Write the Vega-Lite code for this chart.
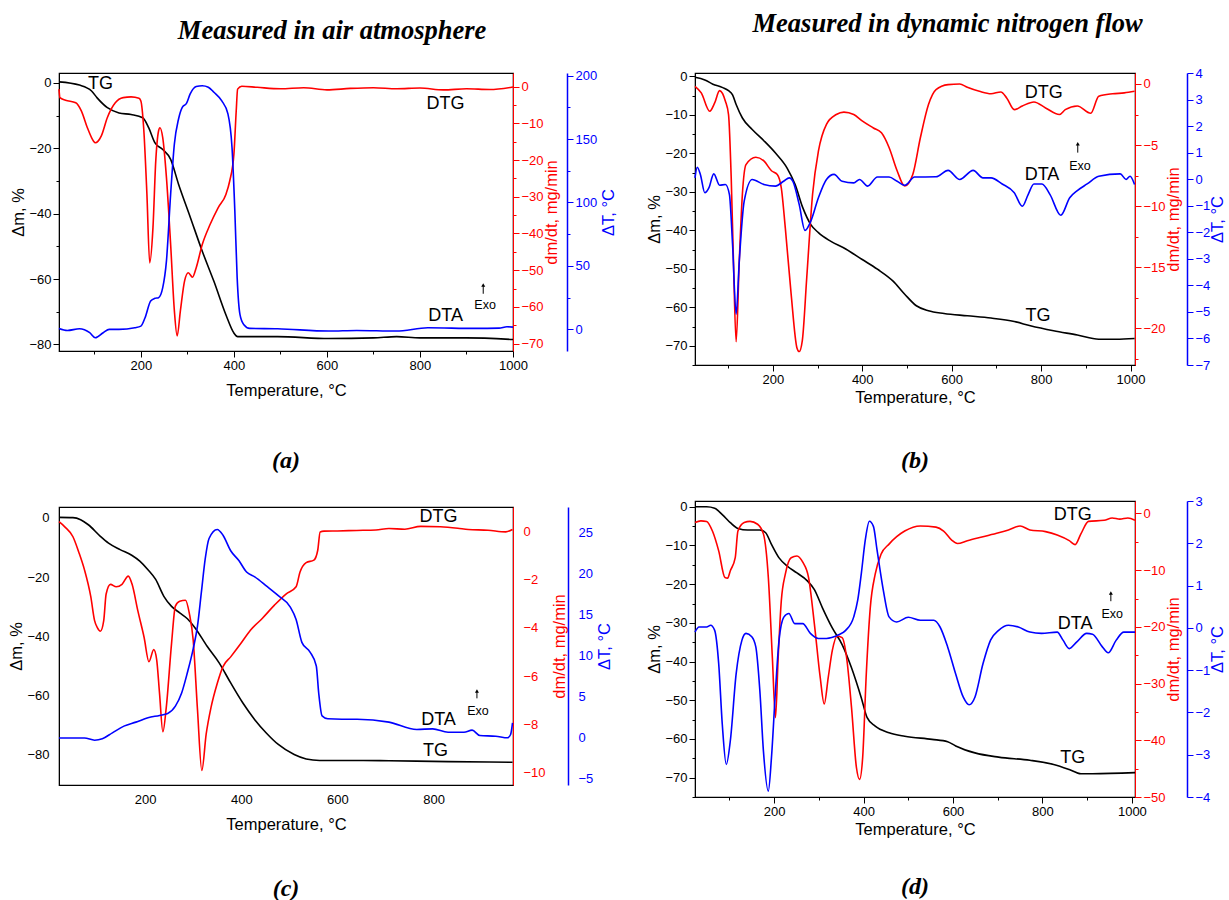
{
"$schema": "https://vega.github.io/schema/vega-lite/v6.json",
"background": "white",
"padding": {"left": 8, "top": 10, "right": 0, "bottom": 0},
"config": {
  "font": "Liberation Sans",
  "view": {"stroke": "black", "strokeWidth": 1.2},
  "axis": {"grid": false, "labelFontSize": 13, "titleFontSize": 16.5, "titleFontWeight": "normal", "labelColor": "black", "titleColor": "black", "domainColor": "black", "tickColor": "black", "labelFlush": false, "labelOverlap": false, "labelFont": "Liberation Sans", "titleFont": "Liberation Sans"},
  "axisX": {"titlePadding": 10},
  "axisY": {"titlePadding": 2}
},
"datasets": {
"aTG": [{"T":24,"v":0.3},{"T":68,"v":-0.7},{"T":94,"v":-2.5},{"T":106,"v":-4.6},{"T":128,"v":-7.6},{"T":153,"v":-9.2},{"T":179,"v":-9.7},{"T":204,"v":-10.7},{"T":217,"v":-13.8},{"T":230,"v":-18.3},{"T":247,"v":-20.4},{"T":264,"v":-23.4},{"T":281,"v":-31},{"T":306,"v":-41},{"T":332,"v":-51.5},{"T":357,"v":-60.7},{"T":383,"v":-71},{"T":400,"v":-76.5},{"T":408,"v":-77.6},{"T":494,"v":-77.6},{"T":604,"v":-78.2},{"T":700,"v":-78},{"T":750,"v":-77.6},{"T":800,"v":-78},{"T":900,"v":-78},{"T":1000,"v":-78.5}],
"aDTG": [{"T":24,"v":-0.7},{"T":26,"v":-3},{"T":38,"v":-3.7},{"T":60,"v":-4.4},{"T":72,"v":-6.6},{"T":85,"v":-11.2},{"T":98,"v":-14.8},{"T":102,"v":-15.3},{"T":115,"v":-13.4},{"T":128,"v":-8.4},{"T":145,"v":-4.4},{"T":162,"v":-3},{"T":179,"v":-2.8},{"T":196,"v":-3.2},{"T":200,"v":-3.9},{"T":206,"v":-11.2},{"T":213,"v":-29.3},{"T":219,"v":-48},{"T":226,"v":-38.4},{"T":232,"v":-20.3},{"T":238,"v":-12.1},{"T":241,"v":-11.2},{"T":247,"v":-13.9},{"T":255,"v":-24.8},{"T":264,"v":-43},{"T":272,"v":-61},{"T":278,"v":-67.9},{"T":285,"v":-61},{"T":294,"v":-52.9},{"T":302,"v":-50.7},{"T":311,"v":-51.9},{"T":319,"v":-49.3},{"T":332,"v":-43},{"T":349,"v":-37.5},{"T":366,"v":-33},{"T":383,"v":-29.3},{"T":391,"v":-25.7},{"T":400,"v":-18.4},{"T":405,"v":-6.6},{"T":408,"v":-0.7},{"T":417,"v":0.1},{"T":450,"v":-0.2},{"T":500,"v":-0.6},{"T":550,"v":-0.3},{"T":600,"v":-0.9},{"T":650,"v":-0.5},{"T":700,"v":-0.3},{"T":750,"v":-0.6},{"T":800,"v":-0.4},{"T":850,"v":-0.9},{"T":900,"v":-0.6},{"T":950,"v":-0.8},{"T":1000,"v":-0.1}],
"aDTA": [{"T":24,"v":0.8},{"T":42,"v":-0.8},{"T":68,"v":0.5},{"T":90,"v":-2.6},{"T":102,"v":-6.6},{"T":119,"v":-2.6},{"T":132,"v":0},{"T":153,"v":0},{"T":187,"v":1.3},{"T":200,"v":2.6},{"T":209,"v":9.2},{"T":221,"v":22.4},{"T":230,"v":24.5},{"T":238,"v":25},{"T":247,"v":32.9},{"T":255,"v":54},{"T":264,"v":106.6},{"T":272,"v":146},{"T":281,"v":165.8},{"T":289,"v":175},{"T":298,"v":178},{"T":306,"v":185.5},{"T":319,"v":191.3},{"T":332,"v":192},{"T":345,"v":190.8},{"T":357,"v":186.8},{"T":374,"v":180},{"T":387,"v":170},{"T":396,"v":143},{"T":402,"v":93.4},{"T":407,"v":40.8},{"T":413,"v":11.8},{"T":421,"v":3.9},{"T":434,"v":0.8},{"T":494,"v":0.5},{"T":604,"v":-1.3},{"T":664,"v":-0.8},{"T":749,"v":-1.3},{"T":817,"v":1.3},{"T":919,"v":0.8},{"T":970,"v":1.0},{"T":987,"v":2.1},{"T":1000,"v":1.8}],
"aLab": [{"T":113,"v":-0.5,"t":"TG"},{"T":855,"v":-6.6,"t":"DTG"},{"T":855,"v":-71.4,"t":"DTA"}],
"aExo": [{"T":940,"v":-67.8,"t":"Exo"}],
"aArr": [{"T":936,"v":-64.5,"v2":-61.8}],
"bTG": [{"T":26,"v":-0.2},{"T":48,"v":-0.9},{"T":66,"v":-2},{"T":88,"v":-2.9},{"T":101,"v":-3.7},{"T":110,"v":-4.8},{"T":118,"v":-7.3},{"T":132,"v":-10.8},{"T":154,"v":-13.8},{"T":180,"v":-16.7},{"T":206,"v":-19.9},{"T":232,"v":-23.8},{"T":250,"v":-28.1},{"T":267,"v":-34.1},{"T":285,"v":-38.5},{"T":302,"v":-40.6},{"T":329,"v":-42.8},{"T":364,"v":-44.9},{"T":399,"v":-47.5},{"T":434,"v":-50.1},{"T":469,"v":-53.2},{"T":495,"v":-56.6},{"T":521,"v":-59.6},{"T":548,"v":-60.9},{"T":583,"v":-61.6},{"T":635,"v":-62.2},{"T":688,"v":-62.8},{"T":740,"v":-63.7},{"T":776,"v":-64.8},{"T":828,"v":-66.1},{"T":881,"v":-67.2},{"T":929,"v":-68.3},{"T":968,"v":-68.3},{"T":1009,"v":-68.1}],
"bDTG": [{"T":26,"v":-0.19},{"T":40,"v":-0.73},{"T":59,"v":-2.23},{"T":70,"v":-1.55},{"T":81,"v":-0.54},{"T":94,"v":-1.41},{"T":101,"v":-2.5},{"T":107,"v":-7.7},{"T":112,"v":-14.5},{"T":118,"v":-21.1},{"T":125,"v":-14.5},{"T":132,"v":-9.0},{"T":140,"v":-6.6},{"T":162,"v":-6.0},{"T":180,"v":-6.3},{"T":197,"v":-7.1},{"T":210,"v":-7.4},{"T":219,"v":-8.5},{"T":228,"v":-11.8},{"T":241,"v":-17.2},{"T":254,"v":-21.6},{"T":259,"v":-21.9},{"T":266,"v":-21},{"T":276,"v":-15.8},{"T":289,"v":-9.0},{"T":302,"v":-5.5},{"T":320,"v":-3.3},{"T":342,"v":-2.5},{"T":359,"v":-2.3},{"T":381,"v":-2.5},{"T":399,"v":-3.0},{"T":425,"v":-3.6},{"T":443,"v":-4.0},{"T":460,"v":-5.2},{"T":478,"v":-7.1},{"T":495,"v":-8.35},{"T":513,"v":-7.4},{"T":530,"v":-4.4},{"T":548,"v":-1.7},{"T":565,"v":-0.46},{"T":592,"v":-0.05},{"T":618,"v":0},{"T":635,"v":-0.27},{"T":662,"v":-0.6},{"T":688,"v":-0.8},{"T":710,"v":-0.65},{"T":723,"v":-1.14},{"T":740,"v":-2.1},{"T":758,"v":-1.8},{"T":784,"v":-1.47},{"T":810,"v":-1.96},{"T":841,"v":-2.5},{"T":854,"v":-2.1},{"T":881,"v":-1.8},{"T":911,"v":-2.4},{"T":929,"v":-1.0},{"T":960,"v":-0.8},{"T":986,"v":-0.73},{"T":1009,"v":-0.6}],
"bDTA": [{"T":26,"v":0.05},{"T":31,"v":0.45},{"T":38,"v":0.18},{"T":48,"v":-0.51},{"T":57,"v":-0.33},{"T":68,"v":0.2},{"T":81,"v":-0.23},{"T":94,"v":-0.2},{"T":103,"v":-0.58},{"T":110,"v":-2.46},{"T":118,"v":-5.09},{"T":125,"v":-3.09},{"T":136,"v":-0.83},{"T":154,"v":-0.01},{"T":180,"v":-0.2},{"T":206,"v":-0.26},{"T":224,"v":-0.08},{"T":237,"v":0.05},{"T":245,"v":-0.08},{"T":259,"v":-0.95},{"T":272,"v":-1.93},{"T":285,"v":-1.58},{"T":302,"v":-0.7},{"T":320,"v":-0.01},{"T":337,"v":0.18},{"T":355,"v":-0.08},{"T":381,"v":-0.14},{"T":394,"v":-0.01},{"T":412,"v":-0.26},{"T":434,"v":0.08},{"T":460,"v":0.08},{"T":478,"v":-0.08},{"T":495,"v":-0.23},{"T":517,"v":0.08},{"T":565,"v":0.09},{"T":592,"v":0.33},{"T":618,"v":-0.01},{"T":648,"v":0.33},{"T":670,"v":0.05},{"T":688,"v":0.05},{"T":713,"v":-0.18},{"T":740,"v":-0.51},{"T":758,"v":-1.02},{"T":771,"v":-0.58},{"T":784,"v":-0.18},{"T":802,"v":-0.18},{"T":820,"v":-0.58},{"T":844,"v":-1.36},{"T":864,"v":-0.7},{"T":881,"v":-0.43},{"T":903,"v":-0.18},{"T":929,"v":0.11},{"T":977,"v":0.2},{"T":990,"v":-0.01},{"T":999,"v":0.11},{"T":1009,"v":-0.2}],
"bLab": [{"T":806,"v":-4.3,"t":"DTG"},{"T":802,"v":-25.5,"t":"DTA"},{"T":793,"v":-62.2,"t":"TG"}],
"bExo": [{"T":887,"v":-23.2,"t":"Exo"}],
"bArr": [{"T":882,"v":-19.8,"v2":-17.5}],
"cTG": [{"T":21,"v":0.2},{"T":50,"v":0.1},{"T":66,"v":-0.6},{"T":82,"v":-2.3},{"T":107,"v":-6.2},{"T":124,"v":-8.5},{"T":148,"v":-10.7},{"T":173,"v":-12.7},{"T":189,"v":-14.6},{"T":206,"v":-17.5},{"T":222,"v":-20.8},{"T":239,"v":-26.5},{"T":255,"v":-29.9},{"T":272,"v":-32.1},{"T":288,"v":-34.1},{"T":304,"v":-37.2},{"T":329,"v":-43.4},{"T":354,"v":-49},{"T":378,"v":-55.8},{"T":403,"v":-62.5},{"T":428,"v":-68.2},{"T":452,"v":-72.7},{"T":477,"v":-76.6},{"T":510,"v":-80},{"T":535,"v":-81.5},{"T":563,"v":-82},{"T":625,"v":-82},{"T":707,"v":-82.1},{"T":830,"v":-82.4},{"T":964,"v":-82.6}],
"cDTG": [{"T":21,"v":0.39},{"T":33,"v":0.18},{"T":50,"v":-0.23},{"T":62,"v":-0.86},{"T":74,"v":-1.6},{"T":87,"v":-2.7},{"T":95,"v":-3.7},{"T":101,"v":-4.0},{"T":107,"v":-4.14},{"T":114,"v":-3.7},{"T":119,"v":-2.6},{"T":128,"v":-2.2},{"T":140,"v":-2.3},{"T":152,"v":-2.2},{"T":165,"v":-1.86},{"T":173,"v":-2.2},{"T":185,"v":-3.3},{"T":198,"v":-4.4},{"T":208,"v":-5.4},{"T":218,"v":-4.9},{"T":224,"v":-5.3},{"T":230,"v":-6.7},{"T":237,"v":-8.3},{"T":244,"v":-7.3},{"T":255,"v":-4.65},{"T":263,"v":-3.1},{"T":272,"v":-2.9},{"T":284,"v":-2.86},{"T":292,"v":-3.4},{"T":300,"v":-4.5},{"T":309,"v":-7.4},{"T":318,"v":-9.9},{"T":327,"v":-8.4},{"T":337,"v":-7.3},{"T":350,"v":-6.3},{"T":362,"v":-5.6},{"T":378,"v":-5.2},{"T":399,"v":-4.65},{"T":419,"v":-4.1},{"T":444,"v":-3.6},{"T":469,"v":-3.06},{"T":493,"v":-2.6},{"T":514,"v":-2.3},{"T":522,"v":-1.7},{"T":535,"v":-1.3},{"T":551,"v":-1.2},{"T":559,"v":-0.79},{"T":564,"v":-0.03},{"T":572,"v":0},{"T":600,"v":0.01},{"T":640,"v":0.03},{"T":680,"v":0.05},{"T":707,"v":0.11},{"T":740,"v":0.08},{"T":773,"v":0.2},{"T":814,"v":0.18},{"T":850,"v":0.12},{"T":872,"v":0.07},{"T":913,"v":0.04},{"T":950,"v":-0.03},{"T":964,"v":0.07}],
"cDTA": [{"T":21,"v":-0.1},{"T":74,"v":-0.1},{"T":95,"v":-0.37},{"T":111,"v":-0.2},{"T":132,"v":0.53},{"T":156,"v":1.35},{"T":181,"v":1.84},{"T":206,"v":2.37},{"T":230,"v":2.66},{"T":247,"v":2.9},{"T":263,"v":3.8},{"T":276,"v":5.4},{"T":288,"v":7.9},{"T":300,"v":10.8},{"T":309,"v":13.6},{"T":317,"v":17.7},{"T":325,"v":21.8},{"T":333,"v":24.3},{"T":350,"v":25.4},{"T":362,"v":24.7},{"T":378,"v":22.8},{"T":395,"v":21.6},{"T":411,"v":20.2},{"T":428,"v":19.6},{"T":452,"v":18.5},{"T":477,"v":17.3},{"T":502,"v":15.9},{"T":514,"v":14.4},{"T":526,"v":11.6},{"T":543,"v":10.4},{"T":556,"v":8.7},{"T":561,"v":5.4},{"T":568,"v":2.6},{"T":580,"v":2.25},{"T":609,"v":2.2},{"T":641,"v":2.2},{"T":707,"v":1.84},{"T":765,"v":0.94},{"T":798,"v":1.02},{"T":830,"v":0.61},{"T":863,"v":0.61},{"T":880,"v":0.86},{"T":896,"v":0.2},{"T":929,"v":0.12},{"T":954,"v":-0.08},{"T":960,"v":0.33},{"T":964,"v":1.76}],
"cLab": [{"T":810,"v":0.3,"t":"DTG"},{"T":810,"v":-68.2,"t":"DTA"},{"T":804,"v":-78.9,"t":"TG"}],
"cExo": [{"T":892,"v":-65.4,"t":"Exo"}],
"cArr": [{"T":890,"v":-61,"v2":-58.5}],
"dTG": [{"T":23,"v":0},{"T":49,"v":0},{"T":67,"v":-0.4},{"T":84,"v":-2},{"T":102,"v":-4.1},{"T":119,"v":-5.6},{"T":141,"v":-6},{"T":168,"v":-6},{"T":181,"v":-6.7},{"T":194,"v":-9.7},{"T":211,"v":-13.2},{"T":229,"v":-15.3},{"T":251,"v":-17.1},{"T":273,"v":-19},{"T":290,"v":-21.4},{"T":308,"v":-26.1},{"T":330,"v":-31.3},{"T":352,"v":-35.6},{"T":373,"v":-41.6},{"T":395,"v":-49.4},{"T":408,"v":-54.5},{"T":426,"v":-56.7},{"T":457,"v":-58.4},{"T":492,"v":-59.3},{"T":553,"v":-60.1},{"T":588,"v":-60.7},{"T":606,"v":-61.8},{"T":649,"v":-63.6},{"T":702,"v":-64.7},{"T":772,"v":-65.5},{"T":825,"v":-66.6},{"T":860,"v":-67.9},{"T":886,"v":-69},{"T":912,"v":-69},{"T":1007,"v":-68.7}],
"dDTG": [{"T":23,"v":-1.6},{"T":36,"v":-1.3},{"T":49,"v":-1.4},{"T":62,"v":-3.1},{"T":76,"v":-6.6},{"T":90,"v":-11.3},{"T":96,"v":-11.4},{"T":102,"v":-10.1},{"T":113,"v":-7.8},{"T":119,"v":-3.1},{"T":133,"v":-1.6},{"T":146,"v":-1.4},{"T":163,"v":-1.9},{"T":176,"v":-3.6},{"T":187,"v":-11.3},{"T":196,"v":-25.4},{"T":203,"v":-36},{"T":209,"v":-25.4},{"T":216,"v":-15.4},{"T":225,"v":-10.7},{"T":238,"v":-7.8},{"T":251,"v":-7.5},{"T":264,"v":-8.6},{"T":277,"v":-11.3},{"T":290,"v":-19.5},{"T":303,"v":-28.9},{"T":312,"v":-33.6},{"T":321,"v":-28.9},{"T":330,"v":-24.2},{"T":341,"v":-21.6},{"T":352,"v":-21.9},{"T":362,"v":-25.4},{"T":373,"v":-34.2},{"T":384,"v":-44.8},{"T":391,"v":-46.9},{"T":398,"v":-43},{"T":406,"v":-28.4},{"T":415,"v":-16.6},{"T":426,"v":-10.7},{"T":439,"v":-7.2},{"T":457,"v":-5.4},{"T":474,"v":-4.1},{"T":492,"v":-3.1},{"T":527,"v":-2.2},{"T":562,"v":-2.4},{"T":579,"v":-3.1},{"T":597,"v":-4.7},{"T":610,"v":-5.3},{"T":632,"v":-4.8},{"T":667,"v":-4.1},{"T":702,"v":-3.4},{"T":724,"v":-2.9},{"T":750,"v":-2.2},{"T":772,"v":-2.9},{"T":807,"v":-3.2},{"T":833,"v":-3.8},{"T":860,"v":-4.8},{"T":873,"v":-5.5},{"T":886,"v":-3.6},{"T":903,"v":-1.4},{"T":938,"v":-1.2},{"T":956,"v":-0.8},{"T":973,"v":-1},{"T":991,"v":-0.8},{"T":1007,"v":-1.2}],
"dDTA": [{"T":23,"v":-0.1},{"T":32,"v":0.02},{"T":49,"v":0.02},{"T":58,"v":0.06},{"T":67,"v":-0.06},{"T":76,"v":-0.85},{"T":84,"v":-2.28},{"T":93,"v":-3.23},{"T":102,"v":-2.67},{"T":115,"v":-1.09},{"T":128,"v":-0.29},{"T":137,"v":-0.13},{"T":150,"v":-0.21},{"T":159,"v":-0.45},{"T":168,"v":-1.48},{"T":176,"v":-2.91},{"T":187,"v":-3.86},{"T":194,"v":-3.07},{"T":203,"v":-1.48},{"T":211,"v":-0.29},{"T":222,"v":0.26},{"T":233,"v":0.34},{"T":246,"v":0.1},{"T":264,"v":0.1},{"T":281,"v":-0.13},{"T":299,"v":-0.25},{"T":317,"v":-0.25},{"T":343,"v":-0.17},{"T":360,"v":-0.06},{"T":378,"v":0.26},{"T":387,"v":0.66},{"T":395,"v":1.29},{"T":404,"v":2.09},{"T":413,"v":2.52},{"T":422,"v":2.4},{"T":430,"v":1.85},{"T":444,"v":0.9},{"T":457,"v":0.26},{"T":474,"v":0.14},{"T":500,"v":0.25},{"T":527,"v":0.18},{"T":557,"v":0.18},{"T":571,"v":0.02},{"T":588,"v":-0.45},{"T":606,"v":-1.09},{"T":623,"v":-1.64},{"T":636,"v":-1.82},{"T":649,"v":-1.64},{"T":667,"v":-0.85},{"T":684,"v":-0.29},{"T":702,"v":-0.06},{"T":724,"v":0.06},{"T":746,"v":0.02},{"T":772,"v":-0.1},{"T":798,"v":-0.13},{"T":833,"v":-0.1},{"T":846,"v":-0.29},{"T":860,"v":-0.49},{"T":877,"v":-0.33},{"T":899,"v":-0.13},{"T":912,"v":-0.15},{"T":934,"v":-0.45},{"T":947,"v":-0.59},{"T":965,"v":-0.29},{"T":982,"v":-0.1},{"T":1007,"v":-0.1}],
"dLab": [{"T":868,"v":-2,"t":"DTG"},{"T":873,"v":-30.2,"t":"DTA"},{"T":868,"v":-64.9,"t":"TG"}],
"dExo": [{"T":956,"v":-27.8,"t":"Exo"}],
"dArr": [{"T":953,"v":-24.4,"v2":-22.3}]
},
"spacing": 28,
"hconcat": [
{
"title": {"text": "Measured in air atmosphere", "font": "Liberation Serif", "fontSize": 26.5, "fontStyle": "italic", "fontWeight": "bold", "color": "black", "offset": 24, "anchor": "middle", "dx": 19},
"spacing": 32,
"vconcat": [
{
"width": 454, "height": 278,
"title": {"text": "(a)", "orient": "bottom", "offset": 50, "font": "Liberation Serif", "fontSize": 24, "fontStyle": "italic", "fontWeight": "bold", "color": "black"},
"resolve": {"scale": {"y": "independent"}},
"layer": [
{"data": {"name": "aTG"}, "mark": {"type": "line", "color": "black", "strokeWidth": 1.6, "interpolate": "monotone"},
 "encoding": {
  "x": {"field": "T", "type": "quantitative", "scale": {"domain": [24, 1000], "nice": false}, "axis": {"title": "Temperature, °C", "format": "d", "values": [100,200,300,400,500,600,700,800,900,1000], "labelExpr": "datum.value % 200 === 0 ? datum.label : ''", "tickSize": {"condition": {"test": "datum.value % 200 === 0", "value": 6}, "value": 3}}},
  "y": {"field": "v", "type": "quantitative", "scale": {"domain": [-82, 3], "nice": false}, "axis": {"orient": "left", "title": "Δm, %", "values": [0,-10,-20,-30,-40,-50,-60,-70,-80], "labelExpr": "datum.value % 20 === 0 ? datum.label : ''", "tickSize": {"condition": {"test": "datum.value % 20 === 0", "value": 6}, "value": 3}}}}},
{"data": {"name": "aDTG"}, "mark": {"type": "line", "color": "#ff0000", "strokeWidth": 1.6, "interpolate": "monotone"},
 "encoding": {
  "x": {"field": "T", "type": "quantitative", "scale": {"domain": [24, 1000], "nice": false}},
  "y": {"field": "v", "type": "quantitative", "scale": {"domain": [-72, 3.7], "nice": false}, "axis": {"orient": "right", "title": "dm/dt, mg/min", "titleAngle": 270, "titleBaseline": "top", "titlePadding": 0, "values": [0,-5,-10,-15,-20,-25,-30,-35,-40,-45,-50,-55,-60,-65,-70], "labelExpr": "datum.value % 10 === 0 ? datum.label : ''", "tickSize": {"condition": {"test": "datum.value % 10 === 0", "value": 6}, "value": 3}, "domainColor": "#ff0000", "tickColor": "#ff0000", "labelColor": "#ff0000", "titleColor": "#ff0000"}}}},
{"data": {"name": "aDTA"}, "mark": {"type": "line", "color": "#0000ff", "strokeWidth": 1.6, "interpolate": "monotone"},
 "encoding": {
  "x": {"field": "T", "type": "quantitative", "scale": {"domain": [24, 1000], "nice": false}},
  "y": {"field": "v", "type": "quantitative", "scale": {"domain": [-17, 202], "nice": false}, "axis": {"orient": "right", "offset": 54, "title": "ΔT, °C", "titleAngle": 270, "titleBaseline": "top", "titlePadding": 4, "values": [0,25,50,75,100,125,150,175,200], "labelExpr": "datum.value % 50 === 0 ? datum.label : ''", "tickSize": {"condition": {"test": "datum.value % 50 === 0", "value": 6}, "value": 3}, "domainColor": "#0000ff", "tickColor": "#0000ff", "labelColor": "#0000ff", "titleColor": "#0000ff", "domainWidth": 1.5}}}},
{"data": {"name": "aLab"}, "mark": {"type": "text", "fontSize": 18, "color": "black"},
 "encoding": {"x": {"field": "T", "type": "quantitative", "scale": {"domain": [24, 1000], "nice": false}}, "y": {"field": "v", "type": "quantitative", "scale": {"domain": [-82, 3], "nice": false}, "axis": null}, "text": {"field": "t"}}},
{"data": {"name": "aExo"}, "mark": {"type": "text", "fontSize": 12.5, "color": "black"},
 "encoding": {"x": {"field": "T", "type": "quantitative", "scale": {"domain": [24, 1000], "nice": false}}, "y": {"field": "v", "type": "quantitative", "scale": {"domain": [-82, 3], "nice": false}, "axis": null}, "text": {"field": "t"}}},
{"data": {"name": "aArr"}, "mark": {"type": "rule", "color": "black", "strokeWidth": 1},
 "encoding": {"x": {"field": "T", "type": "quantitative", "scale": {"domain": [24, 1000], "nice": false}}, "y": {"field": "v", "type": "quantitative", "scale": {"domain": [-82, 3], "nice": false}, "axis": null}, "y2": {"field": "v2"}}},
{"data": {"name": "aArr"}, "mark": {"type": "point", "shape": "triangle-up", "filled": true, "color": "black", "size": 16, "opacity": 1},
 "encoding": {"x": {"field": "T", "type": "quantitative", "scale": {"domain": [24, 1000], "nice": false}}, "y": {"field": "v2", "type": "quantitative", "scale": {"domain": [-82, 3], "nice": false}, "axis": null}}}
]
},
{
"width": 454, "height": 278,
"title": {"text": "(c)", "orient": "bottom", "offset": 44, "font": "Liberation Serif", "fontSize": 24, "fontStyle": "italic", "fontWeight": "bold", "color": "black"},
"resolve": {"scale": {"y": "independent"}},
"layer": [
{"data": {"name": "cTG"}, "mark": {"type": "line", "color": "black", "strokeWidth": 1.6, "interpolate": "monotone"},
 "encoding": {
  "x": {"field": "T", "type": "quantitative", "scale": {"domain": [21, 965], "nice": false}, "axis": {"title": "Temperature, °C", "format": "d", "values": [200,400,600,800], "ticks": false, "labelPadding": 8}},
  "y": {"field": "v", "type": "quantitative", "scale": {"domain": [-90.3, 3.7], "nice": false}, "axis": {"orient": "left", "title": "Δm, %", "values": [0,-20,-40,-60,-80], "ticks": false, "labelPadding": 10}}}},
{"data": {"name": "cDTG"}, "mark": {"type": "line", "color": "#ff0000", "strokeWidth": 1.6, "interpolate": "monotone"},
 "encoding": {
  "x": {"field": "T", "type": "quantitative", "scale": {"domain": [21, 965], "nice": false}},
  "y": {"field": "v", "type": "quantitative", "scale": {"domain": [-10.5, 1], "nice": false}, "axis": {"orient": "right", "title": "dm/dt, mg/min", "titleAngle": 270, "titleBaseline": "top", "titlePadding": 6, "values": [0,-2,-4,-6,-8,-10], "ticks": false, "labelPadding": 10, "domainColor": "#ff0000", "labelColor": "#ff0000", "titleColor": "#ff0000"}}}},
{"data": {"name": "cDTA"}, "mark": {"type": "line", "color": "#0000ff", "strokeWidth": 1.6, "interpolate": "monotone"},
 "encoding": {
  "x": {"field": "T", "type": "quantitative", "scale": {"domain": [21, 965], "nice": false}},
  "y": {"field": "v", "type": "quantitative", "scale": {"domain": [-5.85, 28.15], "nice": false}, "axis": {"orient": "right", "offset": 55, "title": "ΔT, °C", "titleAngle": 270, "titleBaseline": "top", "titlePadding": 4, "values": [-5,0,5,10,15,20,25], "ticks": false, "labelPadding": 10, "domainColor": "#0000ff", "labelColor": "#0000ff", "titleColor": "#0000ff", "domainWidth": 1.5}}}},
{"data": {"name": "cLab"}, "mark": {"type": "text", "fontSize": 18, "color": "black"},
 "encoding": {"x": {"field": "T", "type": "quantitative", "scale": {"domain": [21, 965], "nice": false}}, "y": {"field": "v", "type": "quantitative", "scale": {"domain": [-90.3, 3.7], "nice": false}, "axis": null}, "text": {"field": "t"}}},
{"data": {"name": "cExo"}, "mark": {"type": "text", "fontSize": 12.5, "color": "black"},
 "encoding": {"x": {"field": "T", "type": "quantitative", "scale": {"domain": [21, 965], "nice": false}}, "y": {"field": "v", "type": "quantitative", "scale": {"domain": [-90.3, 3.7], "nice": false}, "axis": null}, "text": {"field": "t"}}},
{"data": {"name": "cArr"}, "mark": {"type": "rule", "color": "black", "strokeWidth": 1},
 "encoding": {"x": {"field": "T", "type": "quantitative", "scale": {"domain": [21, 965], "nice": false}}, "y": {"field": "v", "type": "quantitative", "scale": {"domain": [-90.3, 3.7], "nice": false}, "axis": null}, "y2": {"field": "v2"}}},
{"data": {"name": "cArr"}, "mark": {"type": "point", "shape": "triangle-up", "filled": true, "color": "black", "size": 16, "opacity": 1},
 "encoding": {"x": {"field": "T", "type": "quantitative", "scale": {"domain": [21, 965], "nice": false}}, "y": {"field": "v2", "type": "quantitative", "scale": {"domain": [-90.3, 3.7], "nice": false}, "axis": null}}}
]
}
]
},
{
"title": {"text": "Measured in dynamic nitrogen flow", "font": "Liberation Serif", "fontSize": 26.5, "fontStyle": "italic", "fontWeight": "bold", "color": "black", "offset": 29, "anchor": "middle", "dx": 11},
"spacing": 20,
"vconcat": [
{
"width": 440, "height": 292,
"title": {"text": "(b)", "orient": "bottom", "offset": 43, "font": "Liberation Serif", "fontSize": 24, "fontStyle": "italic", "fontWeight": "bold", "color": "black"},
"resolve": {"scale": {"y": "independent"}},
"layer": [
{"data": {"name": "bTG"}, "mark": {"type": "line", "color": "black", "strokeWidth": 1.6, "interpolate": "monotone"},
 "encoding": {
  "x": {"field": "T", "type": "quantitative", "scale": {"domain": [26, 1010], "nice": false}, "axis": {"title": "Temperature, °C", "titlePadding": 3, "format": "d", "values": [100,200,300,400,500,600,700,800,900,1000], "labelExpr": "datum.value % 200 === 0 ? datum.label : ''", "tickSize": {"condition": {"test": "datum.value % 200 === 0", "value": 6}, "value": 3}}},
  "y": {"field": "v", "type": "quantitative", "scale": {"domain": [-75, 0.9], "nice": false}, "axis": {"orient": "left", "title": "Δm, %", "values": [0,-5,-10,-15,-20,-25,-30,-35,-40,-45,-50,-55,-60,-65,-70,-75], "labelExpr": "datum.value % 10 === 0 ? datum.label : ''", "tickSize": {"condition": {"test": "datum.value % 10 === 0", "value": 6}, "value": 3}}}}},
{"data": {"name": "bDTG"}, "mark": {"type": "line", "color": "#ff0000", "strokeWidth": 1.6, "interpolate": "monotone"},
 "encoding": {
  "x": {"field": "T", "type": "quantitative", "scale": {"domain": [26, 1010], "nice": false}},
  "y": {"field": "v", "type": "quantitative", "scale": {"domain": [-23, 0.9], "nice": false}, "axis": {"orient": "right", "title": "dm/dt, mg/min", "titleAngle": 270, "titleBaseline": "top", "titlePadding": 0, "format": "d", "values": [0,-2.5,-5,-7.5,-10,-12.5,-15,-17.5,-20,-22.5], "labelExpr": "datum.value % 5 === 0 ? datum.label : ''", "tickSize": {"condition": {"test": "datum.value % 5 === 0", "value": 6}, "value": 3}, "domainColor": "#ff0000", "tickColor": "#ff0000", "labelColor": "#ff0000", "titleColor": "#ff0000"}}}},
{"data": {"name": "bDTA"}, "mark": {"type": "line", "color": "#0000ff", "strokeWidth": 1.6, "interpolate": "monotone"},
 "encoding": {
  "x": {"field": "T", "type": "quantitative", "scale": {"domain": [26, 1010], "nice": false}},
  "y": {"field": "v", "type": "quantitative", "scale": {"domain": [-7, 4], "nice": false}, "axis": {"orient": "right", "offset": 52, "title": "ΔT, °C", "titleAngle": 270, "titleBaseline": "top", "titlePadding": 0, "format": "d", "values": [-7,-6.5,-6,-5.5,-5,-4.5,-4,-3.5,-3,-2.5,-2,-1.5,-1,-0.5,0,0.5,1,1.5,2,2.5,3,3.5,4], "labelExpr": "datum.value % 1 === 0 ? datum.label : ''", "tickSize": {"condition": {"test": "datum.value % 1 === 0", "value": 6}, "value": 3}, "domainColor": "#0000ff", "tickColor": "#0000ff", "labelColor": "#0000ff", "titleColor": "#0000ff", "domainWidth": 1.5}}}},
{"data": {"name": "bLab"}, "mark": {"type": "text", "fontSize": 18, "color": "black"},
 "encoding": {"x": {"field": "T", "type": "quantitative", "scale": {"domain": [26, 1010], "nice": false}}, "y": {"field": "v", "type": "quantitative", "scale": {"domain": [-75, 0.9], "nice": false}, "axis": null}, "text": {"field": "t"}}},
{"data": {"name": "bExo"}, "mark": {"type": "text", "fontSize": 12.5, "color": "black"},
 "encoding": {"x": {"field": "T", "type": "quantitative", "scale": {"domain": [26, 1010], "nice": false}}, "y": {"field": "v", "type": "quantitative", "scale": {"domain": [-75, 0.9], "nice": false}, "axis": null}, "text": {"field": "t"}}},
{"data": {"name": "bArr"}, "mark": {"type": "rule", "color": "black", "strokeWidth": 1},
 "encoding": {"x": {"field": "T", "type": "quantitative", "scale": {"domain": [26, 1010], "nice": false}}, "y": {"field": "v", "type": "quantitative", "scale": {"domain": [-75, 0.9], "nice": false}, "axis": null}, "y2": {"field": "v2"}}},
{"data": {"name": "bArr"}, "mark": {"type": "point", "shape": "triangle-up", "filled": true, "color": "black", "size": 16, "opacity": 1},
 "encoding": {"x": {"field": "T", "type": "quantitative", "scale": {"domain": [26, 1010], "nice": false}}, "y": {"field": "v2", "type": "quantitative", "scale": {"domain": [-75, 0.9], "nice": false}, "axis": null}}}
]
},
{
"width": 440, "height": 296,
"title": {"text": "(d)", "orient": "bottom", "offset": 37, "font": "Liberation Serif", "fontSize": 24, "fontStyle": "italic", "fontWeight": "bold", "color": "black"},
"resolve": {"scale": {"y": "independent"}},
"layer": [
{"data": {"name": "dTG"}, "mark": {"type": "line", "color": "black", "strokeWidth": 1.6, "interpolate": "monotone"},
 "encoding": {
  "x": {"field": "T", "type": "quantitative", "scale": {"domain": [23, 1007], "nice": false}, "axis": {"title": "Temperature, °C", "titlePadding": 3, "format": "d", "values": [100,200,300,400,500,600,700,800,900,1000], "labelExpr": "datum.value % 200 === 0 ? datum.label : ''", "tickSize": {"condition": {"test": "datum.value % 200 === 0", "value": 6}, "value": 3}}},
  "y": {"field": "v", "type": "quantitative", "scale": {"domain": [-75, 1.5], "nice": false}, "axis": {"orient": "left", "title": "Δm, %", "values": [0,-5,-10,-15,-20,-25,-30,-35,-40,-45,-50,-55,-60,-65,-70,-75], "labelExpr": "datum.value % 10 === 0 ? datum.label : ''", "tickSize": {"condition": {"test": "datum.value % 10 === 0", "value": 6}, "value": 3}}}}},
{"data": {"name": "dDTG"}, "mark": {"type": "line", "color": "#ff0000", "strokeWidth": 1.6, "interpolate": "monotone"},
 "encoding": {
  "x": {"field": "T", "type": "quantitative", "scale": {"domain": [23, 1007], "nice": false}},
  "y": {"field": "v", "type": "quantitative", "scale": {"domain": [-50, 2.2], "nice": false}, "axis": {"orient": "right", "title": "dm/dt, mg/min", "titleAngle": 270, "titleBaseline": "top", "titlePadding": 0, "values": [0,-5,-10,-15,-20,-25,-30,-35,-40,-45,-50], "labelExpr": "datum.value % 10 === 0 ? datum.label : ''", "tickSize": {"condition": {"test": "datum.value % 10 === 0", "value": 6}, "value": 3}, "domainColor": "#ff0000", "tickColor": "#ff0000", "labelColor": "#ff0000", "titleColor": "#ff0000"}}}},
{"data": {"name": "dDTA"}, "mark": {"type": "line", "color": "#0000ff", "strokeWidth": 1.6, "interpolate": "monotone"},
 "encoding": {
  "x": {"field": "T", "type": "quantitative", "scale": {"domain": [23, 1007], "nice": false}},
  "y": {"field": "v", "type": "quantitative", "scale": {"domain": [-4, 3], "nice": false}, "axis": {"orient": "right", "offset": 52, "title": "ΔT, °C", "titleAngle": 270, "titleBaseline": "top", "titlePadding": 0, "format": "d", "values": [-4,-3.5,-3,-2.5,-2,-1.5,-1,-0.5,0,0.5,1,1.5,2,2.5,3], "labelExpr": "datum.value % 1 === 0 ? datum.label : ''", "tickSize": {"condition": {"test": "datum.value % 1 === 0", "value": 6}, "value": 3}, "domainColor": "#0000ff", "tickColor": "#0000ff", "labelColor": "#0000ff", "titleColor": "#0000ff", "domainWidth": 1.5}}}},
{"data": {"name": "dLab"}, "mark": {"type": "text", "fontSize": 18, "color": "black"},
 "encoding": {"x": {"field": "T", "type": "quantitative", "scale": {"domain": [23, 1007], "nice": false}}, "y": {"field": "v", "type": "quantitative", "scale": {"domain": [-75, 1.5], "nice": false}, "axis": null}, "text": {"field": "t"}}},
{"data": {"name": "dExo"}, "mark": {"type": "text", "fontSize": 12.5, "color": "black"},
 "encoding": {"x": {"field": "T", "type": "quantitative", "scale": {"domain": [23, 1007], "nice": false}}, "y": {"field": "v", "type": "quantitative", "scale": {"domain": [-75, 1.5], "nice": false}, "axis": null}, "text": {"field": "t"}}},
{"data": {"name": "dArr"}, "mark": {"type": "rule", "color": "black", "strokeWidth": 1},
 "encoding": {"x": {"field": "T", "type": "quantitative", "scale": {"domain": [23, 1007], "nice": false}}, "y": {"field": "v", "type": "quantitative", "scale": {"domain": [-75, 1.5], "nice": false}, "axis": null}, "y2": {"field": "v2"}}},
{"data": {"name": "dArr"}, "mark": {"type": "point", "shape": "triangle-up", "filled": true, "color": "black", "size": 16, "opacity": 1},
 "encoding": {"x": {"field": "T", "type": "quantitative", "scale": {"domain": [23, 1007], "nice": false}}, "y": {"field": "v2", "type": "quantitative", "scale": {"domain": [-75, 1.5], "nice": false}, "axis": null}}}
]
}
]
}
]
}
